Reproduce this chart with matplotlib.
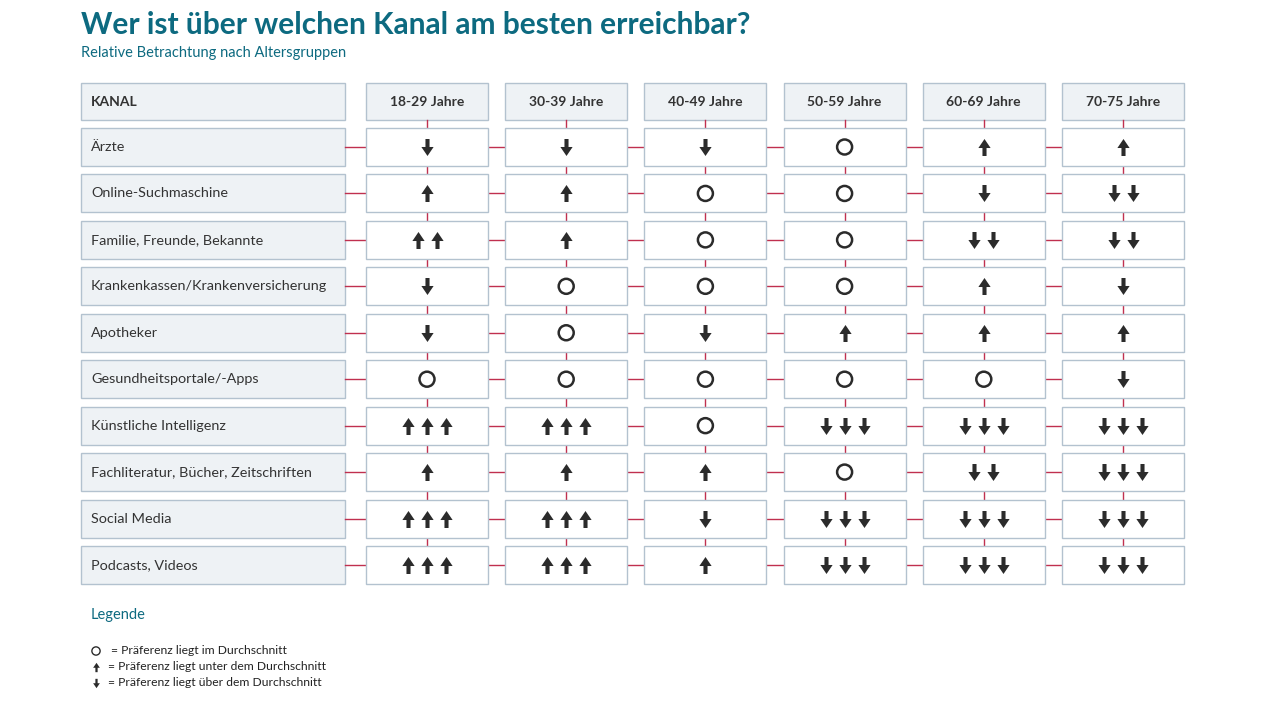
import matplotlib
matplotlib.use("Agg")
import matplotlib.pyplot as plt
from matplotlib.patches import Rectangle
from matplotlib.path import Path
import numpy as np

TITLE = "Wer ist über welchen Kanal am besten erreichbar?"
SUBTITLE = "Relative Betrachtung nach Altersgruppen"

AGE_GROUPS = ["18-29 Jahre", "30-39 Jahre", "40-49 Jahre",
              "50-59 Jahre", "60-69 Jahre", "70-75 Jahre"]

CHANNELS = [
    "Ärzte",
    "Online-Suchmaschine",
    "Familie, Freunde, Bekannte",
    "Krankenkassen/Krankenversicherung",
    "Apotheker",
    "Gesundheitsportale/-Apps",
    "Künstliche Intelligenz",
    "Fachliteratur, Bücher, Zeitschriften",
    "Social Media",
    "Podcasts, Videos",
]

# 0 = Durchschnitt (Kreis), +n = n Pfeile nach oben, -n = n Pfeile nach unten
RATINGS = [
    [-1, -1, -1, 0, 1, 1],
    [1, 1, 0, 0, -1, -2],
    [2, 1, 0, 0, -2, -2],
    [-1, 0, 0, 0, 1, -1],
    [-1, 0, -1, 1, 1, 1],
    [0, 0, 0, 0, 0, -1],
    [3, 3, 0, -3, -3, -3],
    [1, 1, 1, 0, -2, -3],
    [3, 3, -1, -3, -3, -3],
    [3, 3, 1, -3, -3, -3],
]

LEGEND_ITEMS = [
    (0, "= Präferenz liegt im Durchschnitt"),
    (1, "= Präferenz liegt unter dem Durchschnitt"),
    (-1, "= Präferenz liegt über dem Durchschnitt"),
]

TEAL = "#0d6a80"
TEXT = "#333333"
EDGE = "#b3c2cf"
FILL = "#eef2f5"
LINK = "#c0304f"
MARK = "#2b2b2b"
FONT = "Lato"

# arrow marker (pointing up), head triangle + stem
UP = Path([(0, 0.5), (0.36, -0.03), (0.12, -0.03), (0.12, -0.5),
           (-0.12, -0.5), (-0.12, -0.03), (-0.36, -0.03), (0, 0.5)],
          [Path.MOVETO] + [Path.LINETO] * 6 + [Path.CLOSEPOLY])
DOWN = Path(UP.vertices * [1, -1], UP.codes)

# layout in pixels
LABEL_X, LABEL_W = 81, 264
COL_X0, COL_W, COL_STEP = 366, 122, 139.2
HEAD_Y, HEAD_H = 83, 37
ROW_Y0, ROW_H, ROW_STEP = 128, 38, 46.44
ARROW_GAP = 19


def draw_symbol(ax, cx, cy, value, scale=1.0):
    if value == 0:
        ax.scatter([cx], [cy], s=(15 * 0.72 * scale) ** 2, marker="o",
                   facecolor="none", edgecolor=MARK, linewidth=1.8 * scale, zorder=5)
        return
    n = abs(value)
    marker = UP if value > 0 else DOWN
    xs = cx + (np.arange(n) - (n - 1) / 2) * ARROW_GAP * scale
    ax.scatter(xs, [cy] * n, s=(17 * 0.72 * scale) ** 2, marker=marker,
               color=MARK, linewidth=0, zorder=5)


fig = plt.figure(figsize=(12.8, 7.2), dpi=100)
ax = fig.add_axes([0, 0, 1, 1])
ax.set_xlim(0, 1280)
ax.set_ylim(720, 0)
ax.axis("off")

ax.text(81, 25, TITLE, fontsize=21.5, fontweight="bold", color=TEAL,
        family=FONT, va="center", ha="left")
ax.text(81, 53, SUBTITLE, fontsize=10.5, color=TEAL, family=FONT,
        va="center", ha="left")

col_cx = [COL_X0 + i * COL_STEP + COL_W / 2 for i in range(len(AGE_GROUPS))]

# header row
ax.add_patch(Rectangle((LABEL_X, HEAD_Y), LABEL_W, HEAD_H, facecolor=FILL,
                       edgecolor=EDGE, linewidth=1.0))
ax.text(LABEL_X + 10, HEAD_Y + HEAD_H / 2, "KANAL", fontsize=10, fontweight="bold",
        color=TEXT, family=FONT, va="center")
for i, grp in enumerate(AGE_GROUPS):
    x0 = COL_X0 + i * COL_STEP
    ax.add_patch(Rectangle((x0, HEAD_Y), COL_W, HEAD_H, facecolor=FILL,
                           edgecolor=EDGE, linewidth=1.0))
    ax.text(col_cx[i], HEAD_Y + HEAD_H / 2, grp, fontsize=10, fontweight="bold",
            color=TEXT, family=FONT, va="center", ha="center")

# body rows
for r, (name, vals) in enumerate(zip(CHANNELS, RATINGS)):
    y0 = ROW_Y0 + r * ROW_STEP
    cy = y0 + ROW_H / 2
    ax.add_patch(Rectangle((LABEL_X, y0), LABEL_W, ROW_H, facecolor=FILL,
                           edgecolor=EDGE, linewidth=1.0))
    ax.text(LABEL_X + 10, cy, name, fontsize=10.4, color=TEXT, family=FONT,
            va="center")
    # horizontal connectors
    prev_right = LABEL_X + LABEL_W
    for i, v in enumerate(vals):
        x0 = COL_X0 + i * COL_STEP
        ax.plot([prev_right, x0], [cy, cy], color=LINK, linewidth=1, zorder=1)
        prev_right = x0 + COL_W
        ax.add_patch(Rectangle((x0, y0), COL_W, ROW_H, facecolor="white",
                               edgecolor=EDGE, linewidth=1.0, zorder=2))
        # vertical connector from cell above
        top_prev = HEAD_Y + HEAD_H if r == 0 else y0 - ROW_STEP + ROW_H
        ax.plot([col_cx[i], col_cx[i]], [top_prev, y0], color=LINK,
                linewidth=1, zorder=1)
        draw_symbol(ax, col_cx[i], cy, v)

# legend
ax.text(91, 615, "Legende", fontsize=10.5, color=TEAL, family=FONT, va="center")
for k, (sym, label) in enumerate(LEGEND_ITEMS):
    y = 651 + k * 16
    draw_symbol(ax, 96, y, sym, scale=0.55)
    ax.text(111 if sym == 0 else 108, y, label, fontsize=8.7, color="#222222",
            family=FONT, va="center")

fig.savefig("out.png", dpi=100, facecolor="white")
